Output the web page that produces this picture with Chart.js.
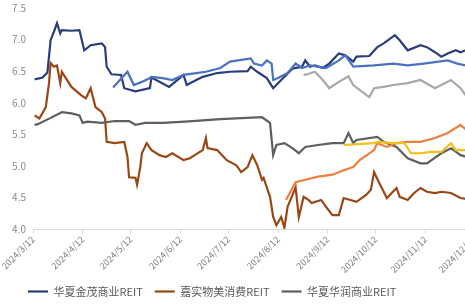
<!DOCTYPE html>
<html lang="zh">
<head>
<meta charset="utf-8">
<script src="https://cdn.jsdelivr.net/npm/chart.js@4"></script>
<style>
    html, body { margin: 0; padding: 0; background: #ffffff; overflow: hidden; }
    #wrap { width: 482px; height: 353px; }
</style>
</head>
<body>
<div id="wrap"><canvas id="lineChart" width="482" height="353"></canvas></div>
<script>
// ========================================================
// DATOS - días desde 2024/3/12 y precios de cada REIT
// ========================================================

const tickDias = [0, 31, 61, 92, 122, 153, 184, 214, 245, 275];
const tickEtiquetas = ['2024/3/12', '2024/4/12', '2024/5/12', '2024/6/12', '2024/7/12',
    '2024/8/12', '2024/9/12', '2024/10/12', '2024/11/12', '2024/12/12'];
const yTicks = [4.0, 4.5, 5.0, 5.5, 6.0, 6.5, 7.0, 7.5];

const nombres = ['华夏金茂商业REIT', '嘉实物美消费REIT', '华夏华润商业REIT',
    '中金印力消费REIT', '华安百联消费REIT', '华夏首创奥莱REIT', '华夏大悦城商业REIT'];
const colores = ['#2d3c7a', '#9a4716', '#5f5f5f', '#4a72c2', '#ec7f3e', '#a8a8a8', '#f2c018'];

const jinmaoDias = [1, 6, 9, 11, 13, 15, 17, 18, 24, 29, 32, 36, 43, 45, 46, 49, 55, 57, 64, 73, 74, 85, 94, 96, 102, 106, 115, 123, 134, 136, 140, 146, 150, 155, 162, 168, 170, 173, 176, 181, 185, 191, 195, 200, 202, 210, 215, 219, 226, 229, 234, 242, 246, 251, 255, 259, 264, 267, 270, 274];
const jinmaoValores = [6.37, 6.40, 6.48, 6.99, 7.12, 7.26, 7.10, 7.15, 7.14, 7.15, 6.83, 6.91, 6.94, 6.88, 6.57, 6.45, 6.44, 6.23, 6.18, 6.23, 6.40, 6.25, 6.44, 6.28, 6.36, 6.41, 6.47, 6.49, 6.50, 6.57, 6.49, 6.39, 6.23, 6.36, 6.54, 6.57, 6.67, 6.57, 6.59, 6.55, 6.62, 6.78, 6.75, 6.65, 6.73, 6.74, 6.88, 6.94, 7.07, 6.99, 6.83, 6.91, 6.88, 6.80, 6.73, 6.78, 6.83, 6.80, 6.83, 6.80];

const wumeiDias = [1, 4, 8, 10, 11, 13, 15, 17, 18, 20, 24, 30, 33, 36, 39, 43, 45, 46, 51, 57, 59, 60, 64, 65, 67, 68, 71, 74, 79, 83, 87, 94, 98, 101, 106, 108, 109, 115, 121, 127, 130, 134, 137, 140, 143, 144, 148, 150, 152, 155, 157, 159, 164, 166, 169, 172, 174, 180, 183, 187, 191, 194, 202, 208, 211, 213, 216, 221, 227, 229, 234, 238, 242, 246, 251, 255, 261, 267, 274, 275];
const wumeiValores = [5.80, 5.75, 5.93, 6.31, 6.63, 6.57, 6.59, 6.31, 6.49, 6.41, 6.25, 6.12, 6.07, 6.23, 5.93, 5.85, 5.75, 5.38, 5.36, 5.38, 5.14, 4.82, 4.81, 4.70, 4.98, 5.20, 5.36, 5.25, 5.17, 5.14, 5.20, 5.09, 5.12, 5.17, 5.25, 5.44, 5.28, 5.25, 5.09, 5.01, 4.90, 4.98, 5.17, 5.01, 4.78, 4.81, 4.51, 4.19, 4.06, 4.19, 4.02, 4.35, 4.66, 4.19, 4.51, 4.46, 4.41, 4.46, 4.35, 4.22, 4.22, 4.49, 4.43, 4.54, 4.62, 4.90, 4.74, 4.49, 4.65, 4.51, 4.46, 4.57, 4.65, 4.59, 4.57, 4.59, 4.57, 4.49, 4.46, 4.10];

const huarunDias = [1, 3, 11, 18, 24, 29, 31, 34, 43, 51, 60, 64, 70, 81, 95, 117, 143, 148, 150, 152, 157, 162, 166, 170, 178, 187, 194, 197, 200, 202, 215, 219, 227, 234, 242, 246, 255, 261, 267, 274, 275];
const huarunValores = [5.65, 5.66, 5.76, 5.85, 5.83, 5.80, 5.68, 5.70, 5.68, 5.71, 5.71, 5.65, 5.68, 5.68, 5.70, 5.74, 5.77, 5.68, 5.17, 5.33, 5.36, 5.28, 5.20, 5.30, 5.33, 5.36, 5.36, 5.52, 5.36, 5.41, 5.46, 5.38, 5.30, 5.12, 5.04, 5.04, 5.20, 5.28, 5.17, 5.12, 4.93];

const yinliDias = [50, 59, 63, 68, 73, 74, 81, 87, 94, 102, 108, 117, 123, 136, 138, 143, 146, 149, 150, 153, 159, 164, 168, 173, 178, 183, 191, 195, 200, 213, 225, 234, 244, 259, 265, 274];
const yinliValores = [6.24, 6.49, 6.28, 6.33, 6.39, 6.41, 6.39, 6.36, 6.44, 6.47, 6.49, 6.55, 6.65, 6.70, 6.62, 6.59, 6.67, 6.62, 6.36, 6.39, 6.47, 6.62, 6.55, 6.59, 6.57, 6.55, 6.67, 6.75, 6.57, 6.59, 6.62, 6.59, 6.62, 6.67, 6.62, 6.57];

const bailianDias = [158, 164, 170, 178, 187, 194, 200, 204, 213, 215, 221, 227, 234, 242, 251, 259, 267, 272, 275];
const bailianValores = [4.46, 4.74, 4.78, 4.83, 4.86, 4.93, 4.98, 5.09, 5.25, 5.36, 5.30, 5.36, 5.38, 5.38, 5.44, 5.52, 5.65, 5.54, 5.49];

const aolaiDias = [169, 170, 176, 181, 185, 191, 197, 200, 210, 213, 219, 225, 234, 242, 251, 261, 267, 271, 274];
const aolaiValores = [6.45, 6.44, 6.49, 6.36, 6.23, 6.33, 6.42, 6.28, 6.09, 6.23, 6.25, 6.28, 6.31, 6.36, 6.23, 6.36, 6.23, 6.09, 5.88];

const dayuechengDias = [194, 213, 216, 225, 232, 236, 242, 248, 255, 261, 264, 275];
const dayuechengValores = [5.33, 5.36, 5.38, 5.36, 5.36, 5.20, 5.20, 5.22, 5.22, 5.36, 5.25, 5.25];

// ========================================================
// CONSTRUCCIÓN DE LOS DATASETS
// ========================================================

const seriesDias = [jinmaoDias, wumeiDias, huarunDias, yinliDias, bailianDias, aolaiDias, dayuechengDias];
const seriesValores = [jinmaoValores, wumeiValores, huarunValores, yinliValores, bailianValores, aolaiValores, dayuechengValores];

// orden de dibujo: las líneas claras debajo
const ordenDibujo = [5, 6, 4, 2, 3, 1, 0];

const datasets = nombres.map((nombre, i) => ({
    label: nombre,
    data: seriesDias[i].map((d, k) => ({ x: d, y: seriesValores[i][k] })),
    borderColor: colores[i],
    backgroundColor: colores[i],
    borderWidth: 2.2,
    pointRadius: 0,
    tension: 0,
    order: ordenDibujo.indexOf(i)
}));

const fuente = '"Noto Sans CJK SC", "Noto Sans", sans-serif';

// desplaza la leyenda para que arranque donde en la imagen original
const moverLeyenda = {
    id: 'moverLeyenda',
    afterLayout(chart) {
        if (chart.legend) chart.legend.left = 16;
    }
};

new Chart(document.getElementById('lineChart'), {
    type: 'line',
    data: { datasets: datasets },
    plugins: [moverLeyenda],
    options: {
        responsive: false,
        animation: false,
        layout: { padding: { top: 8, left: 0, right: 0, bottom: 0 } },
        plugins: {
            tooltip: { enabled: false },
            legend: {
                position: 'bottom',
                align: 'start',
                labels: {
                    usePointStyle: true,
                    pointStyle: 'line',
                    pointStyleWidth: 20,
                    padding: 12,
                    color: '#595959',
                    font: { family: fuente, size: 11 },
                    sort: (a, b) => a.datasetIndex - b.datasetIndex
                }
            }
        },
        scales: {
            x: {
                type: 'linear',
                min: 0,
                max: 275,
                afterBuildTicks: (scale) => { scale.ticks = tickDias.map(v => ({ value: v })); },
                afterFit: (scale) => { scale.height = 45; },
                grid: { drawOnChartArea: false, drawTicks: true, tickLength: 4, color: '#d9d9d9' },
                border: { display: true, color: '#d9d9d9' },
                ticks: {
                    autoSkip: false,
                    minRotation: 45,
                    maxRotation: 45,
                    padding: 1,
                    color: '#808080',
                    font: { family: fuente, size: 9 },
                    callback: (v) => tickEtiquetas[tickDias.indexOf(v)] || ''
                }
            },
            y: {
                min: 4,
                max: 7.5,
                afterBuildTicks: (scale) => { scale.ticks = yTicks.map(v => ({ value: v })); },
                afterFit: (scale) => { scale.width = 33; scale.paddingTop = 0; },
                grid: { display: false, drawTicks: false },
                border: { display: false },
                ticks: {
                    padding: 7,
                    color: '#8a8a8a',
                    font: { family: fuente, size: 10 },
                    callback: (v) => v.toFixed(1)
                }
            }
        }
    }
});
</script>
</body>
</html>
